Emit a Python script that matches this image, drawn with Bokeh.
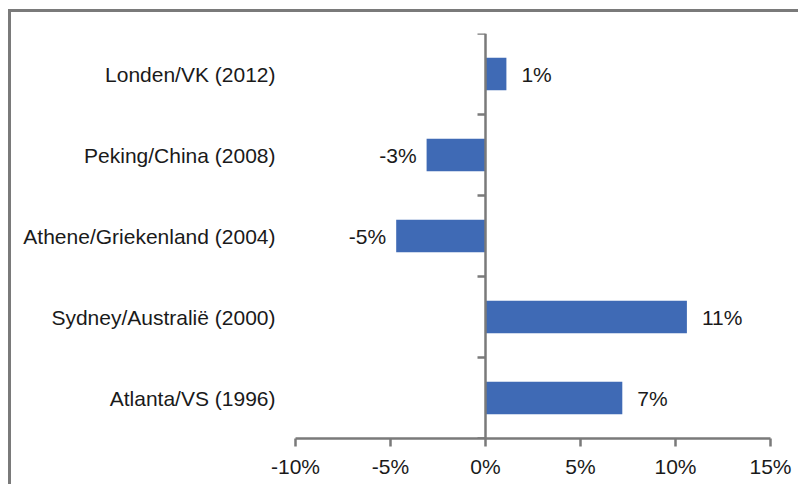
from bokeh.plotting import figure
from bokeh.models import (ColumnDataSource, FixedTicker, LinearAxis, Range1d,
                          PrintfTickFormatter)
from bokeh.core.properties import value
from bokeh.embed import file_html
from bokeh.resources import INLINE

# ---- data (bottom to top) ----
cities = ["Atlanta/VS (1996)", "Sydney/Australië (2000)", "Athene/Griekenland (2004)",
          "Peking/China (2008)", "Londen/VK (2012)"]
changes = [7.2, 10.6, -4.7, -3.1, 1.1]
x_ticks = [-10, -5, 0, 5, 10, 15]

pos = [i + 0.5 for i in range(len(cities))]
labels = [f"{round(v):d}%" for v in changes]

FONT = "Liberation Sans"
FS = "21px"
TXT = "#1a1a1a"
AX = "#7a7a7a"
BAR = "#3f6ab5"

p = figure(width=790, height=475, output_backend="svg", toolbar_location=None,
           x_range=Range1d(-10, 15), y_range=Range1d(0, 5),
           min_border_left=284, min_border_right=31, min_border_top=21,
           min_border_bottom=49)
p.styles = {"border-top": "3px solid #7a7a7a", "border-left": "3px solid #7a7a7a",
            "margin-left": "8px", "margin-top": "9px"}
p.outline_line_color = None
p.xgrid.visible = False
p.ygrid.visible = False

src = ColumnDataSource(dict(y=pos, v=changes, lab=labels))
p.hbar(y="y", left=0, right="v", height=0.4, source=src, fill_color=BAR, line_color=None)

pos_idx = [i for i, v in enumerate(changes) if v >= 0]
neg_idx = [i for i, v in enumerate(changes) if v < 0]
src_pos = ColumnDataSource(dict(x=[changes[i] for i in pos_idx], y=[pos[i] for i in pos_idx],
                                t=[labels[i] for i in pos_idx]))
src_neg = ColumnDataSource(dict(x=[changes[i] for i in neg_idx], y=[pos[i] for i in neg_idx],
                                t=[labels[i] for i in neg_idx]))
p.text(x="x", y="y", text="t", source=src_pos, x_offset=15, text_align="left",
       text_baseline="middle", text_font=value(FONT), text_font_size=FS, text_color=TXT)
p.text(x="x", y="y", text="t", source=src_neg, x_offset=-10, text_align="right",
       text_baseline="middle", text_font=value(FONT), text_font_size=FS, text_color=TXT)

# x axis
xa = p.xaxis[0]
xa.ticker = FixedTicker(ticks=x_ticks)
xa.formatter = PrintfTickFormatter(format="%d%%")
xa.axis_line_color = AX
xa.axis_line_width = 2.5
xa.major_tick_line_color = AX
xa.major_tick_line_width = 2.5
xa.major_tick_in = 0
xa.major_tick_out = 8
xa.minor_tick_line_color = None
xa.major_label_text_font = FONT
xa.major_label_text_font_size = FS
xa.major_label_text_color = TXT
xa.major_label_standoff = 8

# category label axis (at frame edge)
ya = p.yaxis[0]
ya.ticker = FixedTicker(ticks=pos)
ya.major_label_overrides = {p_: c for p_, c in zip(pos, cities)}
ya.axis_line_color = None
ya.major_tick_line_color = None
ya.minor_tick_line_color = None
ya.major_tick_in = 0
ya.major_tick_out = 0
ya.major_label_standoff = 20
ya.major_label_text_font = FONT
ya.major_label_text_font_size = FS
ya.major_label_text_color = TXT

# zero axis with boundary ticks
za = LinearAxis(fixed_location=0, ticker=FixedTicker(ticks=list(range(len(cities) + 1))))
za.axis_line_color = AX
za.axis_line_width = 2.5
za.major_tick_line_color = AX
za.major_tick_line_width = 2.5
za.major_tick_in = 0
za.major_tick_out = 8
za.minor_tick_line_color = None
za.major_label_text_color = None
za.major_label_text_font_size = "1px"
p.add_layout(za, "left")

open("out.html", "w").write(file_html(p, INLINE))
